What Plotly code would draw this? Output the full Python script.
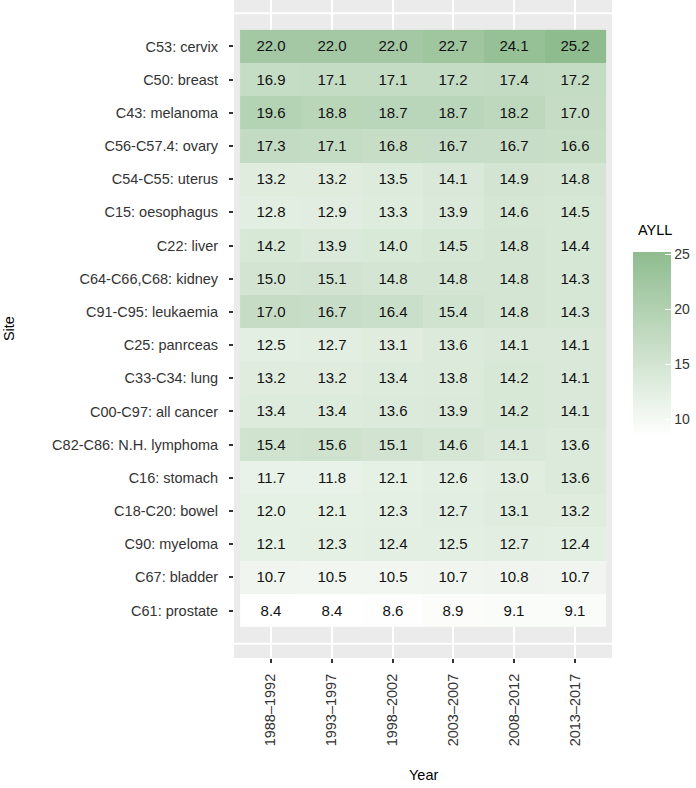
import plotly.graph_objects as go

years = ["1988–1992", "1993–1997", "1998–2002", "2003–2007", "2008–2012", "2013–2017"]
sites = [
    "C53: cervix", "C50: breast", "C43: melanoma", "C56-C57.4: ovary",
    "C54-C55: uterus", "C15: oesophagus", "C22: liver", "C64-C66,C68: kidney",
    "C91-C95: leukaemia", "C25: panrceas", "C33-C34: lung", "C00-C97: all cancer",
    "C82-C86: N.H. lymphoma", "C16: stomach", "C18-C20: bowel", "C90: myeloma",
    "C67: bladder", "C61: prostate",
]
ayll = [
    [22.0, 22.0, 22.0, 22.7, 24.1, 25.2],
    [16.9, 17.1, 17.1, 17.2, 17.4, 17.2],
    [19.6, 18.8, 18.7, 18.7, 18.2, 17.0],
    [17.3, 17.1, 16.8, 16.7, 16.7, 16.6],
    [13.2, 13.2, 13.5, 14.1, 14.9, 14.8],
    [12.8, 12.9, 13.3, 13.9, 14.6, 14.5],
    [14.2, 13.9, 14.0, 14.5, 14.8, 14.4],
    [15.0, 15.1, 14.8, 14.8, 14.8, 14.3],
    [17.0, 16.7, 16.4, 15.4, 14.8, 14.3],
    [12.5, 12.7, 13.1, 13.6, 14.1, 14.1],
    [13.2, 13.2, 13.4, 13.8, 14.2, 14.1],
    [13.4, 13.4, 13.6, 13.9, 14.2, 14.1],
    [15.4, 15.6, 15.1, 14.6, 14.1, 13.6],
    [11.7, 11.8, 12.1, 12.6, 13.0, 13.6],
    [12.0, 12.1, 12.3, 12.7, 13.1, 13.2],
    [12.1, 12.3, 12.4, 12.5, 12.7, 12.4],
    [10.7, 10.5, 10.5, 10.7, 10.8, 10.7],
    [8.4, 8.4, 8.6, 8.9, 9.1, 9.1],
]
cbar_ticks = [10, 15, 20, 25]


# --- Lab interpolation white -> darkseagreen (like ggplot's scale_fill_gradient)
def srgb_to_lin(c):
    c = c / 255.0
    return c / 12.92 if c <= 0.04045 else ((c + 0.055) / 1.055) ** 2.4


def lin_to_srgb(c):
    c = max(0.0, min(1.0, c))
    v = 12.92 * c if c <= 0.0031308 else 1.055 * c ** (1 / 2.4) - 0.055
    return int(round(v * 255))


WX, WY, WZ = 0.95047, 1.0, 1.08883


def rgb_to_lab(rgb):
    r, g, b = [srgb_to_lin(v) for v in rgb]
    x = (0.4124 * r + 0.3576 * g + 0.1805 * b) / WX
    y = (0.2126 * r + 0.7152 * g + 0.0722 * b) / WY
    z = (0.0193 * r + 0.1192 * g + 0.9505 * b) / WZ
    f = lambda t: t ** (1 / 3) if t > 0.008856 else 7.787 * t + 16 / 116
    fx, fy, fz = f(x), f(y), f(z)
    return (116 * fy - 16, 500 * (fx - fy), 200 * (fy - fz))


def lab_to_rgb(lab):
    L, a, b = lab
    fy = (L + 16) / 116
    fx = fy + a / 500
    fz = fy - b / 200
    finv = lambda t: t ** 3 if t ** 3 > 0.008856 else (t - 16 / 116) / 7.787
    x, y, z = finv(fx) * WX, finv(fy) * WY, finv(fz) * WZ
    r = 3.2406 * x - 1.5372 * y - 0.4986 * z
    g = -0.9689 * x + 1.8758 * y + 0.0415 * z
    bb = 0.0557 * x - 0.2040 * y + 1.0570 * z
    return (lin_to_srgb(r), lin_to_srgb(g), lin_to_srgb(bb))


low = rgb_to_lab((255, 255, 255))
high = rgb_to_lab((143, 188, 143))
nstops = 11
colorscale = []
for i in range(nstops):
    t = i / (nstops - 1)
    lab = tuple(low[k] + (high[k] - low[k]) * t for k in range(3))
    r, g, b = lab_to_rgb(lab)
    colorscale.append([t, f"rgb({r},{g},{b})"])

FONT = "Liberation Sans, Arial, Helvetica, sans-serif"
FS = 14.5
TXT = "#333333"

# bottom-to-top order so y, z and the category array agree
sites_bt = sites[::-1]
ayll_bt = ayll[::-1]

fig = go.Figure(
    go.Heatmap(
        x=years,
        y=sites_bt,
        z=ayll_bt,
        zmin=8.4,
        zmax=25.2,
        colorscale=colorscale,
        texttemplate="%{z:.1f}",
        textfont=dict(family=FONT, size=15, color="#111111"),
        xgap=0,
        ygap=0,
        colorbar=dict(
            thickness=38,
            thicknessmode="pixels",
            len=185,
            lenmode="pixels",
            x=633 / 696,
            xref="container",
            xanchor="left",
            xpad=0,
            y=(658 - 344.5) / 658,
            yanchor="middle",
            ypad=0,
            outlinewidth=0,
            tickvals=cbar_ticks,
            ticks="inside",
            ticklen=6,
            tickwidth=1,
            tickcolor="white",
            tickprefix="\u00a0\u2009",
            tickfont=dict(family=FONT, size=14, color=TXT),
        ),
        hoverongaps=False,
    )
)

# extra white gridlines at the empty positions beyond the first/last site
for pos in [-1, 18]:
    fig.add_shape(
        type="line", xref="paper", x0=0, x1=1, yref="y", y0=pos, y1=pos,
        line=dict(color="white", width=2), layer="below",
    )

fig.add_annotation(
    text="AYLL", xref="paper", yref="paper", x=(636 - 234) / 378, y=(658 - 230) / 658,
    showarrow=False, font=dict(family=FONT, size=FS, color="black"),
    xanchor="left", yanchor="middle",
)
fig.add_annotation(
    text="Site", xref="paper", yref="paper", x=-0.595, y=0.5, textangle=-90,
    showarrow=False, font=dict(family=FONT, size=FS, color="black"),
    xanchor="center", yanchor="middle",
)
fig.add_annotation(
    text="Year", xref="paper", yref="paper", x=0.5, y=-0.178,
    showarrow=False, font=dict(family=FONT, size=FS, color="black"),
    xanchor="center", yanchor="middle",
)

fig.update_layout(
    width=696,
    height=788,
    margin=dict(l=234, r=84, t=0, b=130, autoexpand=False),
    paper_bgcolor="white",
    plot_bgcolor="#EBEBEB",
    font=dict(family=FONT, size=FS, color=TXT),
    xaxis=dict(
        type="category",
        categoryorder="array",
        categoryarray=years,
        range=[-0.6, 5.6],
        showgrid=True,
        gridcolor="white",
        gridwidth=2,
        zeroline=False,
        ticks="outside",
        ticklen=4,
        tickwidth=1.5,
        tickcolor="#333333",
        tickangle=-90,
        ticklabelstandoff=5,
        tickfont=dict(family=FONT, size=FS, color=TXT),
        automargin=False,
        fixedrange=True,
    ),
    yaxis=dict(
        type="category",
        categoryorder="array",
        categoryarray=sites_bt,
        range=[-1.43, 18.4],
        showgrid=False,
        zeroline=False,
        ticks="outside",
        ticklen=4,
        tickwidth=1.5,
        tickcolor="#333333",
        ticklabelstandoff=8,
        tickfont=dict(family=FONT, size=FS, color=TXT),
        automargin=False,
        fixedrange=True,
    ),
)

fig.write_html(
    "out.html",
    config={"displayModeBar": False},
    post_script="document.body.style.margin='0';document.body.style.padding='0';",
)
